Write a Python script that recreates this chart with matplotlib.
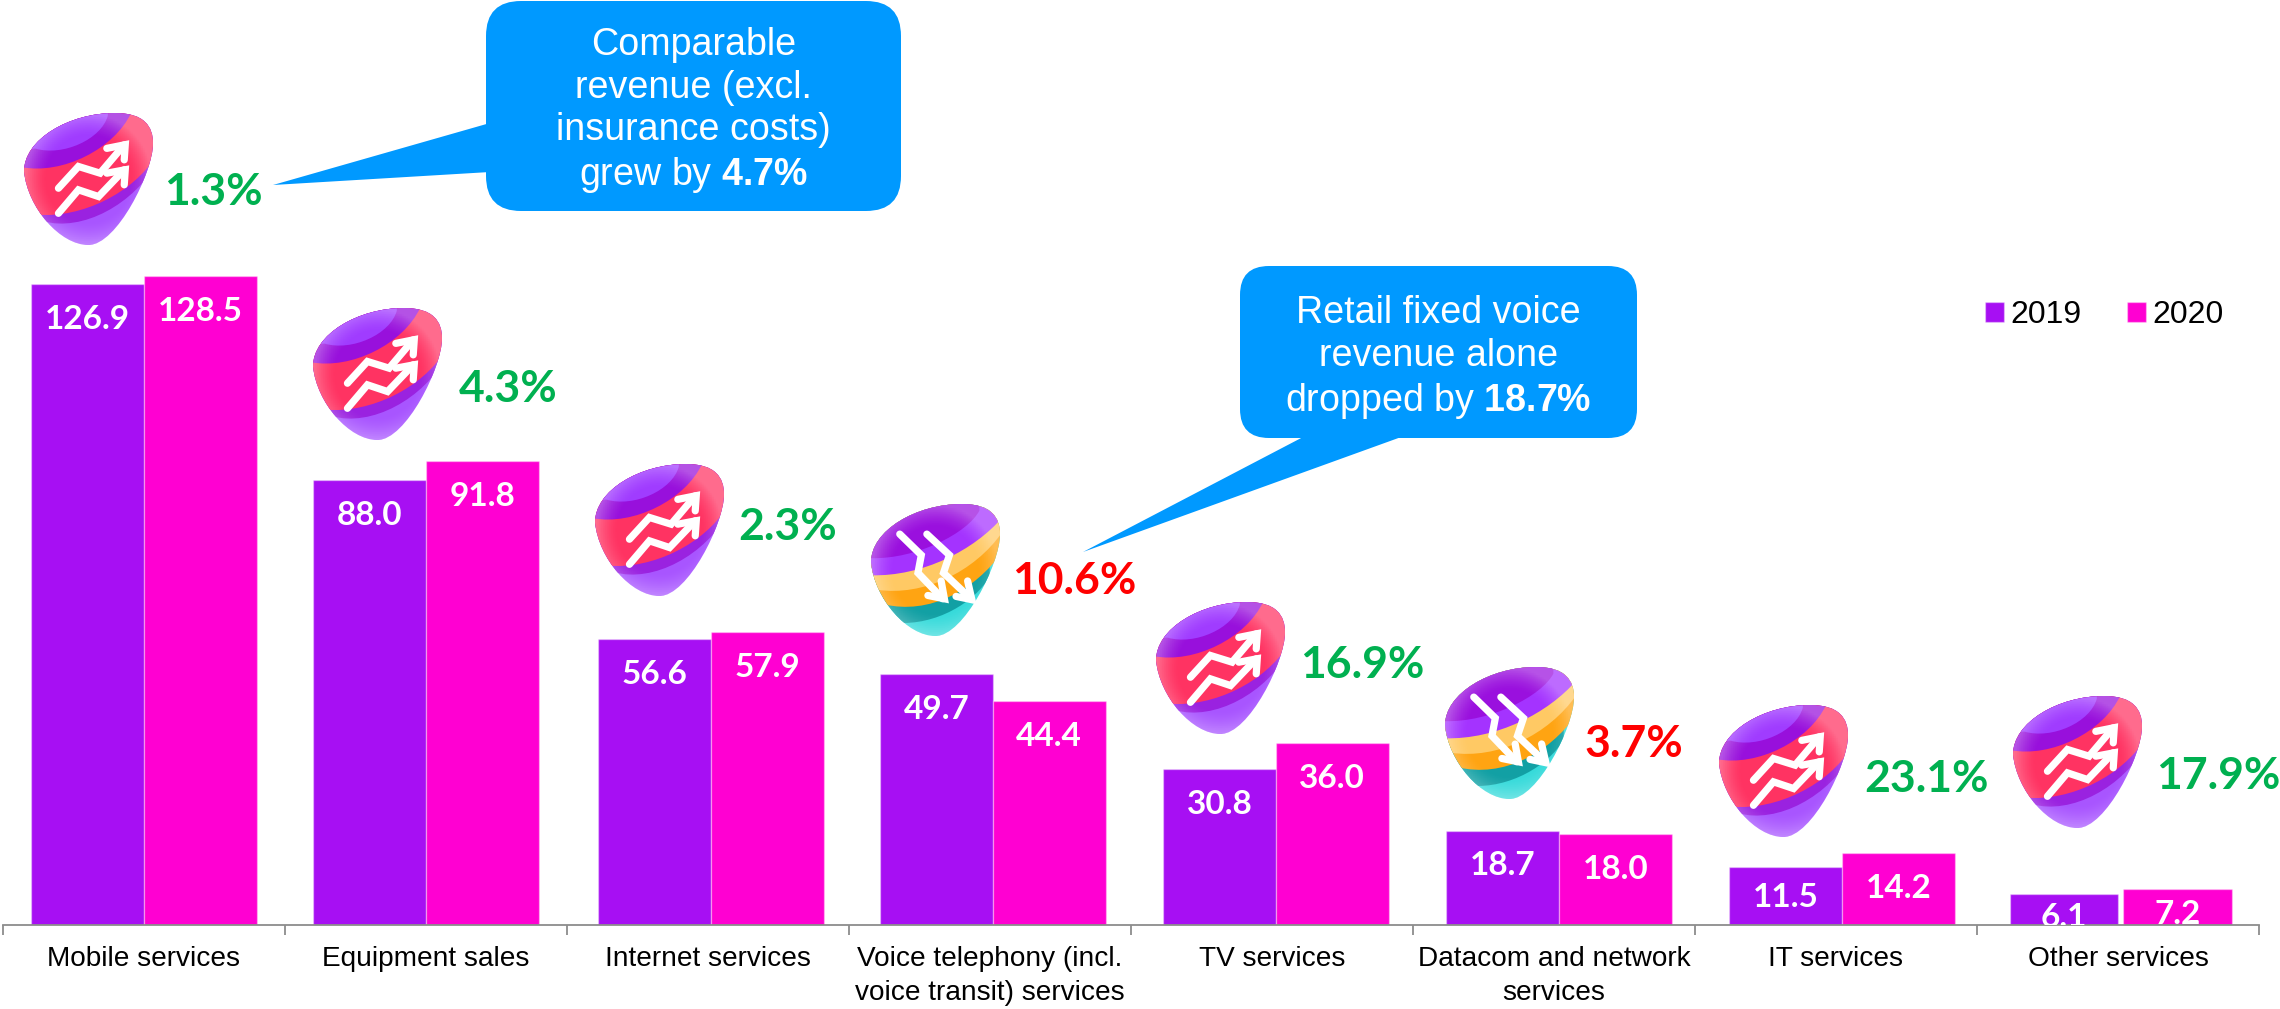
"""Revenue by service line, 2019 vs 2020, with change badges and callouts."""

import matplotlib

matplotlib.use("Agg")

import matplotlib.pyplot as plt  # noqa: E402
import numpy as np  # noqa: E402
from matplotlib.patches import FancyBboxPatch, PathPatch, Polygon  # noqa: E402
from matplotlib.path import Path  # noqa: E402
from matplotlib.ticker import FixedLocator  # noqa: E402

CATEGORIES = [
    "Mobile services",
    "Equipment sales",
    "Internet services",
    "Voice telephony (incl.\nvoice transit) services",
    "TV services",
    "Datacom and network\nservices",
    "IT services",
    "Other services",
]
VALUES_2019 = [126.9, 88.0, 56.6, 49.7, 30.8, 18.7, 11.5, 6.1]
VALUES_2020 = [128.5, 91.8, 57.9, 44.4, 36.0, 18.0, 14.2, 7.2]
CHANGES = ["1.3%", "4.3%", "2.3%", "10.6%", "16.9%", "3.7%", "23.1%", "17.9%"]
GROWING = [True, True, True, False, True, False, True, True]

# pixel layout of the reference
W, H = 2280, 1009
AXIS_LEFT, AXIS_RIGHT, AXIS_Y = 2.7, 2259, 925
PX_PER_UNIT = 5.053
GROUP_SHIFT_PX = [0, 0, 3, 3, 4, 5, 6, 3]
LABEL_RAISE_2019_PX = [0, 0, 0, 0, 0, 0, 5, 12]  # short bars carry their label higher
LABEL_RAISE_2020_PX = [0, 0, 0, 0, 0, 0, 0, 10]
LOGO_BOXES = [
    (24, 113), (313, 308), (595, 464), (871, 504),
    (1156, 602), (1445, 667), (1719, 705), (2013, 696),
]
LOGO_W, LOGO_H = 129, 132
CHANGE_XY = [
    (213, 192), (508, 389), (788, 527), (1074, 581),
    (1362, 665), (1634, 744), (1926, 779), (2218, 776),
]

PURPLE = "#A70FF3"
PINK = "#FF00D2"
GREEN = "#00B050"
RED = "#FF0000"
BLUE = "#0099FF"
GREY = "#8C8C8C"
BAR_EDGE = (1, 1, 1, 0.35)

plt.rcParams["font.family"] = ["Liberation Sans", "DejaVu Sans"]
plt.rcParams["mathtext.fontset"] = "custom"
plt.rcParams["mathtext.rm"] = "Liberation Sans"
plt.rcParams["mathtext.bf"] = "Liberation Sans:bold"

EGG = [
    (Path.MOVETO, (0.707, 0.0)),
    (Path.CURVE4, (0.93, 0.0)), (Path.CURVE4, (1.0, 0.1)), (Path.CURVE4, (1.0, 0.23)),
    (Path.CURVE4, (1.0, 0.45)), (Path.CURVE4, (0.72, 1.0)), (Path.CURVE4, (0.5, 1.0)),
    (Path.CURVE4, (0.28, 1.0)), (Path.CURVE4, (0.03, 0.72)), (Path.CURVE4, (0.0, 0.443)),
    (Path.CURVE4, (0.0, 0.2)), (Path.CURVE4, (0.35, 0.0)), (Path.CURVE4, (0.707, 0.0)),
]

# each layer paints everything above its bezier edge: colour, start, c1, c2, end
UP_LAYERS = [
    ("#9A22E0", (0.15, 0.82), (0.45, 0.9), (0.85, 0.7), (1.05, 0.35)),
    ("#FF3362", (0.1, 0.77), (0.45, 0.8), (0.85, 0.6), (1.02, 0.33)),
    ("#9810DC", (-0.02, 0.41), (0.3, 0.47), (0.7, 0.27), (0.83, 0.0)),
    ("#A03CFF", (0.09, 0.27), (0.3, 0.33), (0.6, 0.2), (0.65, 0.02)),
]
DOWN_LAYERS = [
    ("#12A0A4", (0.2, 0.9), (0.5, 0.92), (0.8, 0.75), (0.92, 0.55)),
    ("#FFA412", (0.1, 0.76), (0.45, 0.84), (0.8, 0.66), (1.02, 0.36)),
    ("#FFC964", (0.05, 0.65), (0.4, 0.7), (0.8, 0.52), (1.02, 0.21)),
    ("#A433FF", (0.0, 0.54), (0.4, 0.55), (0.8, 0.35), (1.02, 0.1)),
    ("#9A10DE", (0.0, 0.41), (0.35, 0.42), (0.75, 0.22), (0.84, 0.05)),
]
UP_ARROWS = [
    [(0.267, 0.57), (0.422, 0.405), (0.59, 0.456), (0.777, 0.241)],
    [(0.642, 0.268), (0.785, 0.24), (0.777, 0.355)],
    [(0.267, 0.76), (0.422, 0.582), (0.578, 0.633), (0.777, 0.43)],
    [(0.642, 0.456), (0.785, 0.43), (0.777, 0.544)],
]
DOWN_ARROWS = [
    [(0.223, 0.228), (0.39, 0.387), (0.364, 0.522), (0.556, 0.718)],
    [(0.441, 0.693), (0.569, 0.718), (0.544, 0.584)],
    [(0.433, 0.228), (0.608, 0.387), (0.562, 0.522), (0.774, 0.718)],
    [(0.659, 0.7), (0.782, 0.725), (0.749, 0.583)],
]


def _logo(ov, x0, y0, up):
    def to_px(pts):
        return [(x0 + px * LOGO_W, y0 + py * LOGO_H) for px, py in pts]

    codes, pts = zip(*EGG)
    base = "#A855FF" if up else "#35DADA"
    egg = PathPatch(Path(to_px(pts), codes), fc=base, ec="none", zorder=5)
    ov.add_patch(egg)

    for colour, start, c1, c2, end in UP_LAYERS if up else DOWN_LAYERS:
        edge = [start, c1, c2, end, (end[0], -0.1), (-0.1, -0.1), (-0.1, start[1]), start]
        edge_codes = [Path.MOVETO] + [Path.CURVE4] * 3 + [Path.LINETO] * 4
        patch = PathPatch(Path(to_px(edge), edge_codes), fc=colour, ec="none", zorder=5)
        ov.add_patch(patch)
        patch.set_clip_path(egg)

    # soft lighter rim, the badge is shaded towards its edges
    gy, gx = np.mgrid[-1:1:64j, -1:1:64j]
    rim = np.clip((np.hypot(gx, gy) - 0.65) / 0.35, 0, 1) ** 1.5 * 0.28
    rgba = np.dstack([np.ones_like(rim)] * 3 + [rim])
    im = ov.imshow(rgba, extent=(x0, x0 + LOGO_W, y0 + LOGO_H, y0), aspect="auto", zorder=5)
    im.set_clip_path(egg)

    for line in UP_ARROWS if up else DOWN_ARROWS:
        xs, ys = zip(*to_px(line))
        ov.plot(xs, ys, color="white", lw=5.2, solid_capstyle="round",
                solid_joinstyle="miter", zorder=6)


def _callout(ov, x0, y0, x1, y1, radius, tail):
    ov.add_patch(FancyBboxPatch((x0, y0), x1 - x0, y1 - y0, fc=BLUE, ec="none",
                                boxstyle=f"round,pad=0,rounding_size={radius}", zorder=7))
    ov.add_patch(Polygon(tail, closed=True, fc=BLUE, ec="none", zorder=7))


fig = plt.figure(figsize=(W / 100, H / 100), dpi=100)
ax = fig.add_axes([AXIS_LEFT / W, 1 - AXIS_Y / H, (AXIS_RIGHT - AXIS_LEFT) / W, AXIS_Y / H])
px_per_cat = (AXIS_RIGHT - AXIS_LEFT) / len(CATEGORIES)

x = np.arange(len(CATEGORIES)) + np.array(GROUP_SHIFT_PX) / px_per_cat
width = np.full(len(CATEGORIES), 0.4)
gap = np.zeros(len(CATEGORIES))
width[-1], gap[-1] = 0.386, 5 / px_per_cat  # last pair is narrower and slightly apart

bars_a = ax.bar(x - (width + gap) / 2, VALUES_2019, width, color=PURPLE, edgecolor=BAR_EDGE,
                linewidth=1, label="2019")
bars_b = ax.bar(x + (width + gap) / 2, VALUES_2020, width, color=PINK, edgecolor=BAR_EDGE,
                linewidth=1, label="2020")
for bars, raises in ((bars_a, LABEL_RAISE_2019_PX), (bars_b, LABEL_RAISE_2020_PX)):
    for bar, raise_px in zip(bars, raises):
        ax.annotate(f"{bar.get_height():.1f}",
                    (bar.get_x() + bar.get_width() / 2, bar.get_height()),
                    xytext=(0, -25.5 + raise_px * 0.72), textcoords="offset points",
                    ha="center", va="center", color="white", fontsize=24, fontweight="bold",
                    family="Lato", clip_on=True)

ax.set_xlim(-0.5, len(CATEGORIES) - 0.5)
ax.set_ylim(0, AXIS_Y / PX_PER_UNIT)
ax.set_xticks(np.arange(len(CATEGORIES)), CATEGORIES, fontsize=20.2, linespacing=1.42)
ax.xaxis.set_minor_locator(FixedLocator(np.arange(len(CATEGORIES) + 1) - 0.5))
ax.tick_params(axis="x", which="major", length=0, pad=15)
ax.tick_params(axis="x", which="minor", length=7.4, width=1.3, color=GREY)
ax.yaxis.set_visible(False)
for side in ("top", "left", "right"):
    ax.spines[side].set_visible(False)
ax.spines["bottom"].set_color(GREY)
ax.spines["bottom"].set_linewidth(1.3)
ax.patch.set_alpha(0)

ax.legend(loc="upper left", bbox_to_anchor=(1985 / W, 1 - 300 / H), bbox_transform=fig.transFigure,
          ncol=2, frameon=False, fontsize=23, borderpad=0, borderaxespad=0,
          handlelength=0.58, handleheight=0.58, handletextpad=0.2, columnspacing=1.45)

# overlay in reference pixels for badges and callouts
ov = fig.add_axes([0, 0, 1, 1], zorder=3)
ov.axis("off")

for (lx, ly), up in zip(LOGO_BOXES, GROWING):
    _logo(ov, lx, ly, up)

for (tx, ty), label, up in zip(CHANGE_XY, CHANGES, GROWING):
    ov.text(tx, ty, label, ha="center", va="center", color=GREEN if up else RED,
            fontsize=32, fontweight="bold", family="Lato", zorder=8)

_callout(ov, 486, 1, 901, 211, 35, [(273, 185), (490, 123), (490, 172)])
ov.text(693.5, 111, "Comparable\nrevenue (excl.\ninsurance costs)\ngrew by $\\mathbf{4.7\\%}$",
        ha="center", va="center", color="white", fontsize=27.1, linespacing=1.23, zorder=8)
_callout(ov, 1240, 266, 1637, 438, 29, [(1083, 552), (1305, 436), (1404, 436)])
ov.text(1438.5, 358, "Retail fixed voice\nrevenue alone\ndropped by $\\mathbf{18.7\\%}$",
        ha="center", va="center", color="white", fontsize=27.1, linespacing=1.25, zorder=8)

ov.set_xlim(0, W)
ov.set_ylim(H, 0)

fig.savefig("out.png", dpi=100)
plt.close(fig)
